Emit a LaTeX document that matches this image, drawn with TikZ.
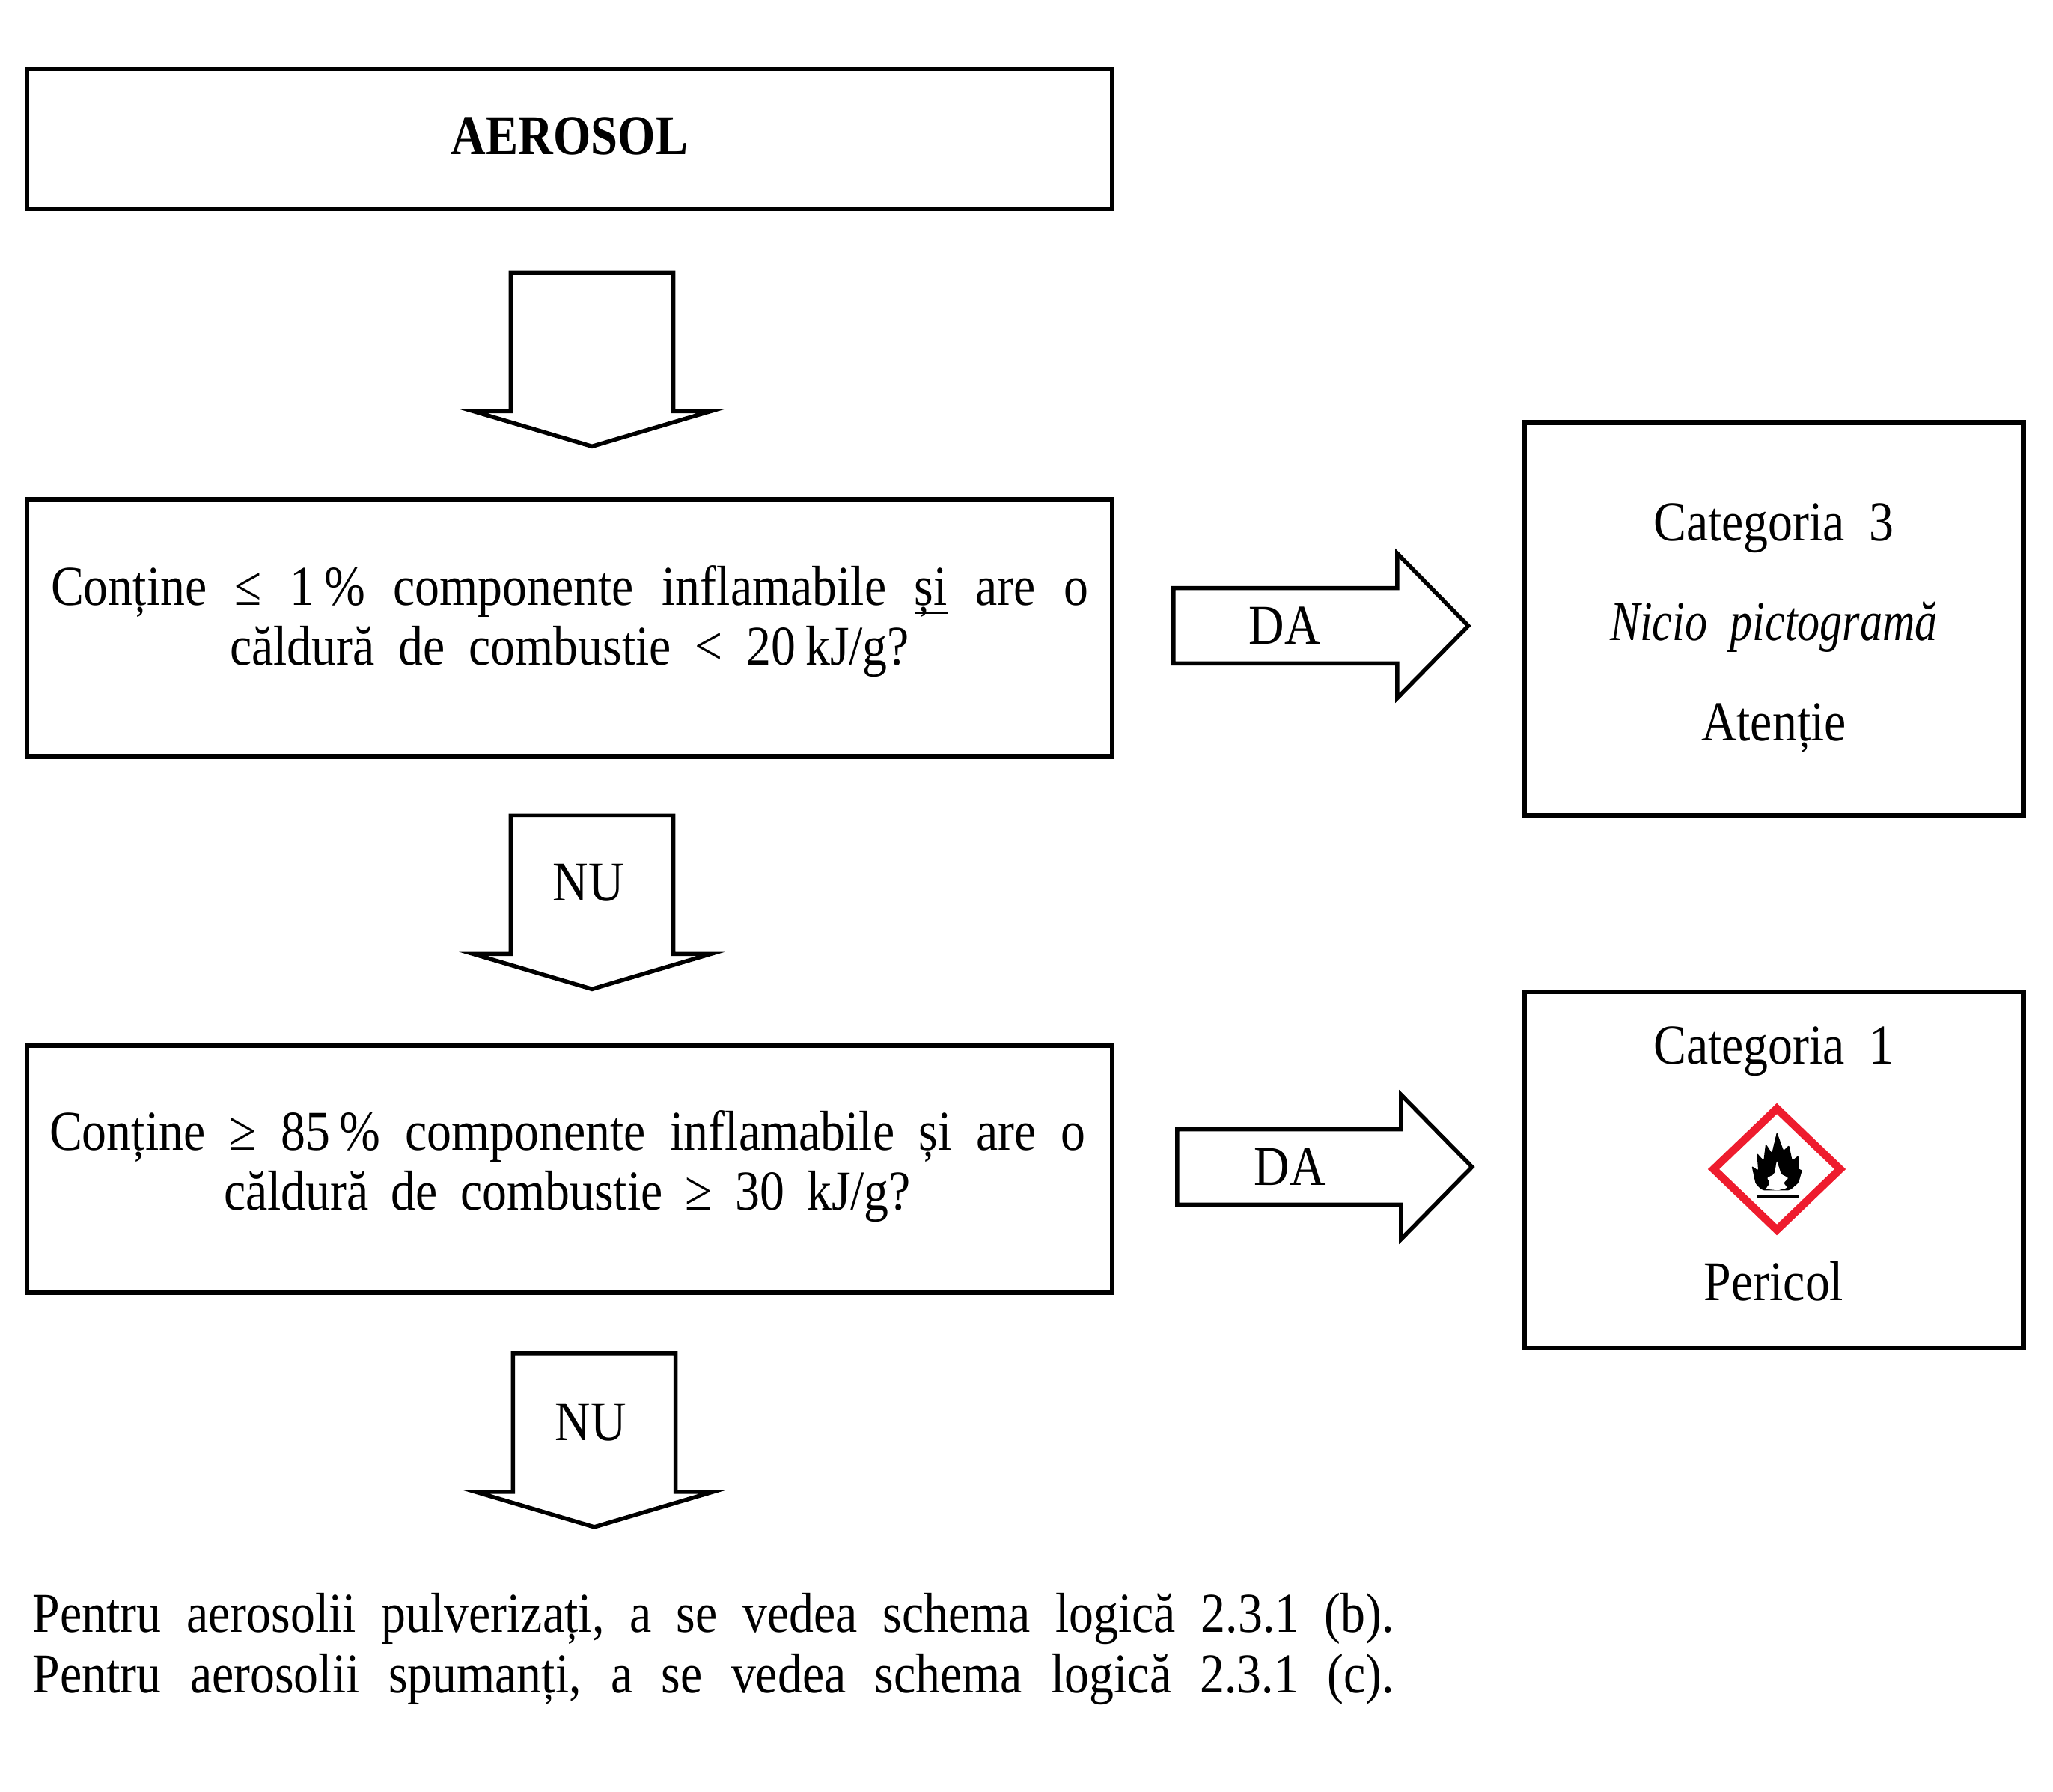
\documentclass[tikz,border=0pt]{standalone}
\usepackage{fontspec}
\setmainfont[FakeStretch=0.875,WordSpace=2.0,ItalicFeatures={FakeStretch=0.8},BoldFeatures={FakeStretch=0.86}]{Liberation Serif}
\usetikzlibrary{positioning,calc,shapes.geometric,shapes.arrows}
\definecolor{ghsred}{HTML}{EE1C2E}
\newcommand{\ulword}[1]{\setbox0\hbox{#1}\rlap{\rule[-3.2pt]{\wd0}{0.85pt}}\box0\relax}
\newcommand{\fitline}[2]{\makebox[#1][s]{#2}}

\begin{document}
\begin{tikzpicture}[
  font=\fontsize{21.4}{22.8}\selectfont,
  block/.style={draw, line width=0.065cm, inner sep=0pt, minimum width=14.5cm},
  catbox/.style={draw, line width=0.065cm, inner sep=0pt, minimum width=6.67cm},
  boxtext/.style={align=center, inner sep=0pt},
  darrow/.style={draw, line width=0.055cm, single arrow, shape border rotate=270, inner sep=0pt, text width=2.1cm,
    minimum height=2.32cm, minimum width=3.18cm, single arrow tip angle=147, single arrow head extend=0.5cm},
  rarrow/.style={draw, line width=0.055cm, single arrow, inner sep=0pt, text height=0.93cm, text depth=0pt, text width=1cm,
    minimum height=3.94cm, minimum width=1.93cm, single arrow tip angle=91, single arrow head extend=0.45cm}
]
\useasboundingbox (0,0) rectangle (27.43,-23.94);

% ----- Fixed coordinates for tidy layout
\coordinate (X1) at (7.61,-1.855);
\coordinate (X2) at (7.61,-8.39);
\coordinate (X3) at (7.61,-15.62);
\coordinate (Cat3) at (23.70,-8.27);
\coordinate (Cat1) at (23.70,-15.63);

% ----- Question boxes
\node[block, minimum height=1.87cm] at (X1) (aerosol) {};
\node[block, minimum height=3.43cm] at (X2) (ask1) {};
\node[block, minimum height=3.3cm] at (X3) (ask2) {};
\node[boxtext] at (7.61,-1.82) (aerosoltxt) {\textbf{AEROSOL}};
\node[boxtext] at (7.61,-8.30) (ask1txt) {\fitline{13.86cm}{Conține ≤ 1\,\% componente inflamabile \ulword{și} are o}\\
  \fitline{9.08cm}{căldură de combustie < 20\,kJ/g?}};
\node[boxtext] at (7.58,-15.585) (ask2txt) {\fitline{13.84cm}{Conține ≥ 85\,\% componente inflamabile și are o}\\
  \fitline{9.18cm}{căldură de combustie ≥ 30 kJ/g?}};

% ----- Result boxes
\node[catbox, minimum height=5.25cm] at (Cat3) (res3) {};
\node[catbox, minimum height=4.76cm] at (Cat1) (res1) {};
\node[boxtext] at (23.70,-8.39) (res3txt) {Categoria 3\\[0.53cm]\textit{Nicio pictogramă}\\[0.53cm]Atenție};
\node[boxtext] at (23.70,-15.55) (res1txt) {Categoria 1\\[2.35cm]Pericol};

% ----- Down arrows
\node[darrow] at (7.91,-4.643) (down1) {};
\node[darrow] at (7.91,-11.893) (down2) {};
\node[darrow] at (7.94,-19.078) (down3) {};
\node at (7.86,-11.79) (nu1) {NU};
\node at (7.89,-19.00) (nu2) {NU};

% ----- Right arrows
\node[rarrow] at (17.40,-8.36) (right1) {};
\node[rarrow] at (17.45,-15.59) (right2) {};
\node at (17.16,-8.36) (da1) {DA};
\node at (17.23,-15.59) (da2) {DA};

% ----- Flammable pictogram
\node[diamond, draw=ghsred, line width=0.105cm, inner sep=0pt, outer sep=0pt, aspect=1.04,
  minimum width=1.69cm, minimum height=1.62cm] at (23.74,-15.62) (ghs) {};
\begin{scope}[shift={(ghs.center)}, x=0.00333cm, y=-0.00333cm]
  % flame
  \fill[black, rounded corners=0.6pt] (-58,85) -- (-85,60) -- (-101,-13) -- (-75,5) -- (-80,-65) -- (-53,-35)
    -- (-45,-103) -- (-20,-65) -- (0,-150) -- (27,-75) -- (49,-97) -- (62,-35) -- (87,-55) -- (87,0)
    -- (102,3) -- (87,55) -- (52,85) -- cycle;
  \fill[white, rounded corners=0.6pt] (0,-35) -- (17,20) -- (47,35) -- (27,55) -- (42,75) -- (5,85)
    -- (-45,80) -- (-27,55) -- (-40,35) -- (-10,20) -- cycle;
  % bar
  \fill[black] (-80,102) rectangle (90,118);
\end{scope}

% ----- Footer
\node[anchor=west, align=left] at (0.315,-22.03) (foot) {\fitline{18.19cm}{Pentru aerosolii pulverizați, a se vedea schema logică 2.3.1 (b).}\\
  \fitline{18.19cm}{Pentru aerosolii spumanți, a se vedea schema logică 2.3.1 (c).}};

\end{tikzpicture}
\end{document}
